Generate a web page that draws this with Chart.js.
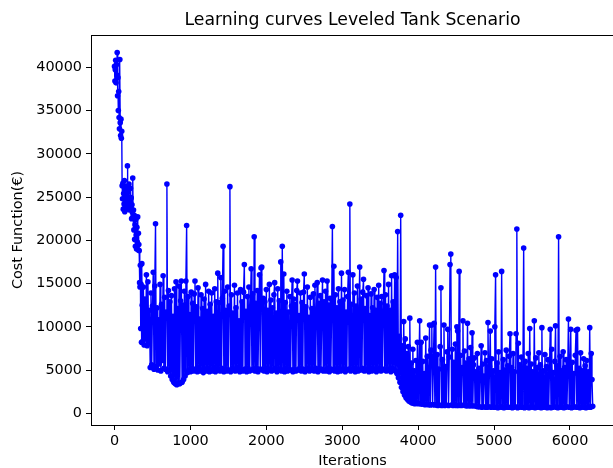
<!DOCTYPE html>
<html>
<head>
<meta charset="utf-8">
<title>Learning curves Leveled Tank Scenario</title>
<script src="https://cdn.jsdelivr.net/npm/chart.js@4.4.1/dist/chart.umd.min.js"></script>
<style>
  html, body { margin: 0; padding: 0; background: #fff; overflow: hidden; }
  #wrap { width: 620px; height: 468px; }
</style>
</head>
<body>
<div id="wrap"><canvas id="costChart" width="620" height="468"></canvas></div>
<script>
const earlyStart = 0;
const earlyStep = 5;
const earlyCost = [
  40100, 38400, 39700, 40800, 38200, 40300, 39100, 41700, 36700, 38800,
  35000, 37200, 34200, 32900, 40900, 33600, 32100, 34000, 31800, 32600,
  26300, 24800, 26600, 23600, 25400, 24200, 26900, 23300, 25800, 24000,
  26200, 23700, 25100, 24400, 28600, 23900, 25600, 24700, 26500, 23500,
  25000, 24300, 26000, 23800, 24900, 22500, 24100, 23200, 27200, 22800,
  23500, 21200, 22900, 20100, 21800, 19300, 22400, 20600, 19000, 21500,
  19800, 22700, 18900, 20800, 19500, 18800, 15100, 14600, 17100, 9800,
  14900, 8200, 17300, 12500
];

// plateau around 5000 with spikes (iterations 370..3700)
const midStart = 370;
const midStep = 10;
const midCost = [
  8300, 14600, 7900, 13200, 8600, 16000, 7800, 15200, 8200, 11900,
  5300, 13900, 5600, 12400, 16300, 5100, 14700, 21900, 5400, 12200,
  5000, 10800, 5700, 14900, 4900, 12600, 6100, 15900, 5200, 13400,
  5100, 11700, 26500, 4800, 14200, 5000, 12900, 4300, 13600, 3900,
  11200, 3600, 14400, 3400, 15200, 3300, 12100, 3500, 14700, 3400,
  13000, 15300, 3600, 12500, 3900, 14100, 4300, 15300, 21700, 4700,
  13500, 5000, 11400, 4800, 14000, 5200, 12700, 4900, 13800, 15300,
  5100, 12300, 4800, 14500, 5300, 10900, 4900, 13700, 5000, 12100,
  4700, 13200, 5100, 14900, 4900, 11800, 5200, 14100, 4800, 12600,
  5000, 13900, 4900, 11200, 5300, 14400, 4800, 12900, 5100, 16200,
  5000, 12800, 4900, 15700, 5200, 13300, 19300, 4800, 14100, 5100,
  11900, 4900, 14600, 5000, 12400, 26200, 4800, 13700, 5200, 11600,
  5100, 14800, 4900, 12200, 5000, 13900, 5300, 10700, 4800, 14300,
  5000, 12900, 4900, 14000, 17200, 5100, 11800, 4800, 13500, 5200,
  14600, 4900, 12300, 16700, 5000, 13800, 5100, 20400, 4900, 12700,
  5200, 14200, 4800, 11500, 16000, 5100, 16800, 16900, 5000, 13300,
  4900, 12900, 5200, 14300, 4800, 11900, 5000, 14900, 5100, 13100,
  4900, 12200, 5000, 13700, 15100, 5200, 11600, 4800, 14400, 5000,
  13000, 5100, 17500, 4900, 19300, 5000, 16100, 4800, 12800, 5200,
  14100, 4900, 11700, 5100, 13500, 5000, 12400, 15400, 4800, 13200,
  5100, 12600, 4900, 14200, 15300, 5000, 11300, 5200, 13900, 4900,
  12800, 5100, 14000, 16100, 4800, 12300, 5000, 14600, 5200, 11100,
  4900, 13400, 5100, 12100, 5000, 13800, 4900, 14800, 5200, 11900,
  15100, 4800, 12700, 5000, 13600, 5100, 11400, 15400, 4900, 12900,
  5000, 14100, 4900, 15300, 5200, 12500, 4800, 13300, 5100, 11800,
  21600, 5000, 17000, 4900, 13700, 5100, 12200, 4800, 14400, 5200,
  12900, 4900, 16200, 5000, 13100, 5100, 14300, 4800, 11700, 5000,
  13500, 16300, 5100, 24200, 4900, 12600, 5000, 16000, 5200, 13900,
  4800, 12400, 5100, 14700, 4900, 11600, 16900, 5000, 13200, 5200,
  14000, 15500, 4900, 12100, 5100, 13600, 5000, 14500, 4800, 11300,
  5200, 13800, 4900, 12200, 5000, 14300, 5100, 11900, 4800, 13400,
  5000, 14800, 5200, 12700, 4900, 13500, 5100, 11800, 16500, 5000,
  13700, 4900, 12400, 5100, 14900, 5000, 11900, 4800, 15900, 5200,
  12900, 5000, 16000, 4900
];

// second plateau below 1000 (iterations 3710..6300)
const lateStart = 3710;
const lateStep = 10;
const lateCost = [
  15700, 4600, 21000, 4100, 8900, 3600, 22900, 3000, 7800, 2500,
  10600, 2100, 8600, 1800, 6900, 1600, 7700, 1400, 11000, 1300,
  5800, 1200, 7400, 1150, 4900, 1100, 6100, 1200, 8200, 1100,
  5300, 10700, 1100, 8200, 1050, 6000, 1100, 4600, 1000, 8700,
  1050, 6600, 1000, 5200, 10200, 950, 7300, 10200, 1000, 5600,
  10400, 950, 16900, 1000, 6800, 900, 5100, 950, 7700, 14500,
  900, 6200, 1000, 10200, 900, 5400, 950, 7100, 9700, 900,
  6500, 17200, 18400, 950, 7400, 900, 5900, 1000, 8000, 900,
  10000, 9500, 900, 16400, 950, 6700, 900, 5300, 10700, 950,
  7200, 900, 5800, 850, 10400, 900, 6300, 850, 7600, 900,
  9300, 850, 5600, 6400, 850, 4800, 800, 6900, 750, 5200,
  750, 4600, 7800, 700, 5700, 750, 4300, 7000, 700, 6100,
  700, 10500, 750, 5400, 9500, 700, 6300, 750, 4900, 700,
  10000, 16000, 700, 5800, 650, 7100, 700, 4700, 750, 16400,
  700, 6200, 650, 5000, 700, 7300, 750, 5500, 700, 6600,
  9200, 700, 5300, 650, 6900, 700, 4800, 750, 9200, 21300,
  650, 8100, 700, 5600, 750, 6500, 700, 4900, 19100, 650,
  6000, 700, 5200, 750, 6900, 650, 9800, 700, 5700, 750,
  4800, 700, 10700, 650, 6400, 700, 5300, 750, 7000, 700,
  5600, 650, 9900, 700, 4900, 750, 6800, 700, 5400, 650,
  6200, 700, 5100, 9700, 650, 7400, 700, 4700, 750, 6000,
  10100, 700, 5500, 650, 20400, 700, 6600, 750, 4900, 700,
  7100, 650, 5300, 700, 6200, 750, 4800, 10900, 700, 5700,
  9700, 650, 5900, 700, 4600, 750, 6700, 9600, 700, 9700,
  700, 5200, 650, 7000, 700, 4900, 750, 6300, 700, 5500,
  650, 6100, 700, 4800, 750, 9900, 700, 6900, 3900, 800
];

const xTickValues = [0, 1000, 2000, 3000, 4000, 5000, 6000];
const yTickValues = [0, 5000, 10000, 15000, 20000, 25000, 30000, 35000, 40000];

const titleText = "Learning curves Leveled Tank Scenario";
const xLabel = "Iterations";
const yLabel = "Cost Function(€)";

function toPoints(start, step, costs) {
  return costs.map((c, i) => ({ x: start + i * step, y: c }));
}

const points = [
  ...toPoints(earlyStart, earlyStep, earlyCost),
  ...toPoints(midStart, midStep, midCost),
  ...toPoints(lateStart, lateStep, lateCost),
];

const font = "DejaVu Sans";

// title over the plot area + top/right spines, like matplotlib
const framePlugin = {
  id: "frame",
  afterDraw(chart) {
    const { ctx, chartArea } = chart;
    ctx.save();
    ctx.strokeStyle = "#000";
    ctx.lineWidth = 1;
    ctx.strokeRect(
      Math.round(chartArea.left) + 0.5,
      Math.round(chartArea.top) + 0.5,
      Math.round(chartArea.right - chartArea.left),
      Math.round(chartArea.bottom - chartArea.top)
    );
    ctx.fillStyle = "#000";
    ctx.font = "17.3px '" + font + "'";
    ctx.textAlign = "center";
    ctx.textBaseline = "alphabetic";
    ctx.fillText(titleText, (chartArea.left + chartArea.right) / 2, 25);
    ctx.restore();
  },
};

new Chart(document.getElementById("costChart"), {
  type: "line",
  data: {
    datasets: [
      {
        data: points,
        borderColor: "#0000ff",
        backgroundColor: "#0000ff",
        borderWidth: 1.4,
        pointRadius: 2.8,
        pointBorderWidth: 0,
        pointBackgroundColor: "#0000ff",
        tension: 0,
      },
    ],
  },
  options: {
    responsive: false,
    animation: false,
    layout: { padding: { top: 35, right: 6, left: 0, bottom: 0 } },
    plugins: {
      legend: { display: false },
      tooltip: { enabled: false },
      title: { display: false },
    },
    scales: {
      x: {
        type: "linear",
        min: -310,
        max: 6580,
        afterBuildTicks: (s) => { s.ticks = xTickValues.map((v) => ({ value: v })); },
        afterFit: (s) => { s.height = 43; },
        grid: { drawOnChartArea: false, drawTicks: true, tickLength: 5, tickColor: "#000" },
        border: { display: true, color: "#000", width: 1 },
        ticks: {
          color: "#000",
          padding: 3,
          maxRotation: 0,
          font: { family: font, size: 14.4 },
          callback: (v) => String(v),
        },
        title: {
          display: true,
          text: xLabel,
          color: "#000",
          font: { family: font, size: 14.4 },
          padding: { top: 0, bottom: -2 },
        },
      },
      y: {
        type: "linear",
        min: -1355,
        max: 43730,
        afterBuildTicks: (s) => { s.ticks = yTickValues.map((v) => ({ value: v })); },
        afterFit: (s) => { s.width = 91; },
        grid: { drawOnChartArea: false, drawTicks: true, tickLength: 5, tickColor: "#000" },
        border: { display: true, color: "#000", width: 1 },
        ticks: {
          color: "#000",
          padding: 4,
          font: { family: font, size: 14.4 },
          callback: (v) => String(v),
        },
        title: {
          display: true,
          text: yLabel,
          color: "#000",
          font: { family: font, size: 14.4 },
          padding: { top: 10, bottom: 0 },
        },
      },
    },
  },
  plugins: [framePlugin],
});
</script>
</body>
</html>
